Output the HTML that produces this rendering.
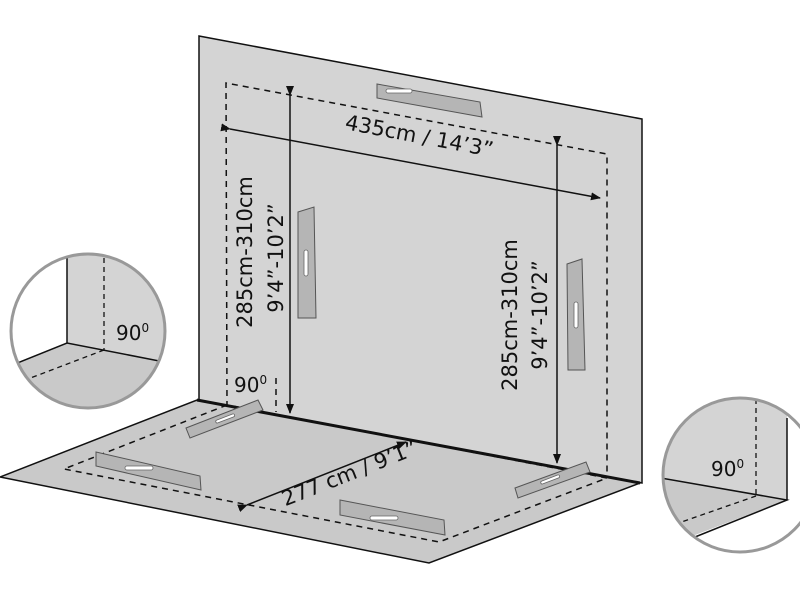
<!DOCTYPE html>
<html><head><meta charset="utf-8"><style>
html,body{margin:0;padding:0;background:#fff;}
svg{display:block;}
text{font-family:"DejaVu Sans","Liberation Sans",sans-serif;fill:#111;}
</style></head><body>
<svg width="800" height="600" viewBox="0 0 800 600" xmlns="http://www.w3.org/2000/svg">
<defs>
<marker id="ah" markerWidth="10" markerHeight="8" refX="9" refY="4" orient="auto" markerUnits="userSpaceOnUse">
<path d="M0,0 L10,4 L0,8 z" fill="#111"/></marker>
<clipPath id="cl"><circle cx="88" cy="331" r="77"/></clipPath>
<clipPath id="cr"><circle cx="740" cy="475" r="77"/></clipPath>
</defs>
<polygon points="0,477 197,400 640,483 429,563" fill="#c9c9c9" stroke="#111" stroke-width="1.5"/>
<polygon points="199,36 642,119 642,483 199,400" fill="#d4d4d4" stroke="#111" stroke-width="1.5"/>
<line x1="197" y1="400" x2="640" y2="483" stroke="#111" stroke-width="3"/>
<polyline points="227,407 226,83 607,154 607,478" fill="none" stroke="#111" stroke-width="1.5" stroke-dasharray="6,5"/>
<line x1="276" y1="378" x2="276" y2="412" stroke="#111" stroke-width="1.5" stroke-dasharray="6,5"/>
<polygon points="227,405 64,469 439,542 607,478" fill="none" stroke="#111" stroke-width="1.5" stroke-dasharray="6,5"/>
<g fill="#b5b5b5" stroke="#555" stroke-width="1">
<polygon points="377,84 480,102 482,117 377,98"/>
<polygon points="298,212 314,207 316,318 298,318"/>
<polygon points="567,264 582,259 585,370 568,370"/>
<polygon points="186,428 258,400 263,410 190,438"/>
<polygon points="96,452 200,476 201,490 96,466"/>
<polygon points="340,500 444,520 445,535 340,515"/>
<polygon points="515,488 586,462 590,472 518,498"/>
</g>
<g fill="#fff" stroke="#666" stroke-width="0.8">
<rect x="386" y="89" width="26" height="4" rx="2"/>
<rect x="304" y="250" width="4" height="26" rx="2"/>
<rect x="574" y="302" width="4" height="26" rx="2"/>
<rect x="215" y="417" width="20" height="3" rx="1.5" transform="rotate(-21 225 418)"/>
<rect x="125" y="466" width="28" height="4" rx="2"/>
<rect x="370" y="516" width="28" height="4" rx="2"/>
<rect x="540" y="478" width="20" height="3" rx="1.5" transform="rotate(-21 550 479)"/>
</g>
<g stroke="#111" stroke-width="1.5" fill="none">
<line x1="290" y1="95" x2="290" y2="413" marker-start="url(#ah)" marker-end="url(#ah)"/>
<line x1="557" y1="145" x2="557" y2="463" marker-start="url(#ah)" marker-end="url(#ah)"/>
<line x1="230" y1="129" x2="600" y2="198" marker-start="url(#ah)" marker-end="url(#ah)"/>
<line x1="247" y1="505" x2="406" y2="442" marker-start="url(#ah)" marker-end="url(#ah)"/>
</g>
<text x="418" y="143" font-size="21" text-anchor="middle" transform="rotate(10.7 418 143)">435cm / 14’3”</text>
<text x="0" y="0" font-size="21" text-anchor="middle" transform="translate(252 252) rotate(-90)">285cm-310cm</text>
<text x="0" y="0" font-size="21" text-anchor="middle" transform="translate(283 258) rotate(-90)">9’4”-10’2”</text>
<text x="0" y="0" font-size="21" text-anchor="middle" transform="translate(517 315) rotate(-90)">285cm-310cm</text>
<text x="0" y="0" font-size="21" text-anchor="middle" transform="translate(547 315) rotate(-90)">9’4”-10’2”</text>
<text x="0" y="0" font-size="21" text-anchor="middle" transform="translate(352 480) rotate(-21.6)">277 cm / 9’1”</text>
<text x="234" y="392" font-size="20">90<tspan font-size="12" dy="-8">0</tspan></text>
<g clip-path="url(#cl)">
<rect x="0" y="240" width="180" height="180" fill="#fff"/>
<polygon points="67,240 180,240 180,365 67,343" fill="#d4d4d4"/>
<polygon points="67,343 180,365 180,420 0,420 0,370" fill="#c9c9c9"/>
<line x1="67" y1="240" x2="67" y2="343" stroke="#111" stroke-width="1.5"/>
<polyline points="0,370 67,343 180,365" fill="none" stroke="#111" stroke-width="1.5"/>
<line x1="104" y1="240" x2="104" y2="350" stroke="#111" stroke-width="1.3" stroke-dasharray="5,4"/>
<line x1="104" y1="350" x2="20" y2="382" stroke="#111" stroke-width="1.3" stroke-dasharray="5,4"/>
<text x="116" y="340" font-size="20">90<tspan font-size="12" dy="-8">0</tspan></text>
</g>
<circle cx="88" cy="331" r="77" fill="none" stroke="#999" stroke-width="3"/>
<g clip-path="url(#cr)">
<rect x="655" y="390" width="170" height="170" fill="#fff"/>
<polygon points="655,477 787,500 787,390 655,390" fill="#d4d4d4"/>
<polygon points="655,477 787,500 695,535 655,550" fill="#c9c9c9"/>
<line x1="787" y1="418" x2="787" y2="500" stroke="#111" stroke-width="1.5"/>
<polyline points="655,477 787,500 695,537" fill="none" stroke="#111" stroke-width="1.5"/>
<line x1="756" y1="390" x2="756" y2="496" stroke="#111" stroke-width="1.3" stroke-dasharray="5,4"/>
<line x1="756" y1="496" x2="670" y2="526" stroke="#111" stroke-width="1.3" stroke-dasharray="5,4"/>
<text x="711" y="476" font-size="20">90<tspan font-size="12" dy="-8">0</tspan></text>
</g>
<circle cx="740" cy="475" r="77" fill="none" stroke="#999" stroke-width="3"/>
</svg>
</body></html>
